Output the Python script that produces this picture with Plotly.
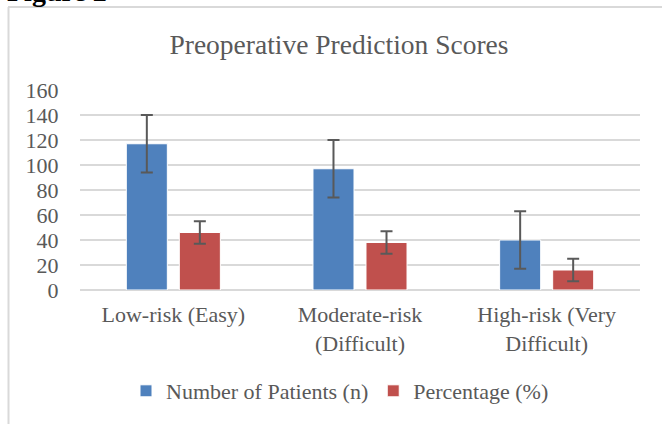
import plotly.graph_objects as go

categories = ["Low-risk (Easy)", "Moderate-risk<br>(Difficult)", "High-risk (Very<br>Difficult)"]
patients = [117, 97, 40]
patients_err = [23, 23, 23]
percentage = [46, 38, 16]
percentage_err = [9, 9, 9]

FONT = "Liberation Serif"
GRAY = "#595959"

W, H = 662, 424
L, R, T, B = 80, 22, 90, 134
pw, ph = W - L - R, H - T - B

def px(x):
    return (x - L) / pw

def py(y):
    return (H - B - y) / ph

fig = go.Figure()
fig.add_trace(go.Bar(
    x=categories, y=patients, name="Number of Patients (n)",
    marker=dict(color="#4F81BD", line=dict(color="#FFFFFF", width=1)),
    error_y=dict(type="data", array=patients_err, visible=True, color=GRAY, thickness=2, width=6),
))
fig.add_trace(go.Bar(
    x=categories, y=percentage, name="Percentage (%)",
    marker=dict(color="#C0504D", line=dict(color="#FFFFFF", width=1)),
    error_y=dict(type="data", array=percentage_err, visible=True, color=GRAY, thickness=2, width=6),
))

fig.update_layout(
    width=W, height=H,
    margin=dict(l=L, r=R, t=T, b=B, autoexpand=False),
    paper_bgcolor="white", plot_bgcolor="white",
    barmode="group", bargap=0.432, bargroupgap=0.226,
    hovermode=False,
    font=dict(family=FONT, color=GRAY, size=21),
    title=dict(text="Preoperative Prediction Scores", x=339 / W, xref="container", xanchor="center",
               y=1 - 44 / H, yref="container", yanchor="middle",
               font=dict(family=FONT, size=27.5, color=GRAY)),
    legend=dict(orientation="h", x=px(340), xanchor="center", y=py(391), yanchor="middle",
                font=dict(family=FONT, size=22, color=GRAY), itemwidth=30,
                traceorder="normal", bgcolor="rgba(0,0,0,0)"),
    xaxis=dict(showgrid=False, showline=False, ticks="", tickfont=dict(family=FONT, size=22, color=GRAY),
               ticklabelstandoff=9),
    yaxis=dict(range=[0, 160], dtick=20, showgrid=True, gridcolor="#D9D9D9", gridwidth=1.5,
               zeroline=True, zerolinecolor="#D9D9D9", zerolinewidth=1.5, showline=False,
               ticks="outside", ticklen=16, tickcolor="rgba(0,0,0,0)",
               tickfont=dict(family=FONT, size=22, color=GRAY)),
    showlegend=True,
)

fig.add_shape(type="line", xref="paper", yref="paper", x0=px(8), x1=px(662), y0=py(7), y1=py(7),
              line=dict(color="#D9D9D9", width=2))
fig.add_shape(type="line", xref="paper", yref="paper", x0=px(8.5), x1=px(8.5), y0=py(7), y1=py(424),
              line=dict(color="#D9D9D9", width=2))

fig.add_annotation(text="<b>Figure 2</b>", xref="paper", yref="paper", x=px(5), y=py(9),
                   xanchor="left", yanchor="bottom", showarrow=False,
                   font=dict(family=FONT, size=28, color="#000000"))

fig.write_html("out.html", config={"displayModeBar": False},
               post_script="document.body.style.margin='0';")
